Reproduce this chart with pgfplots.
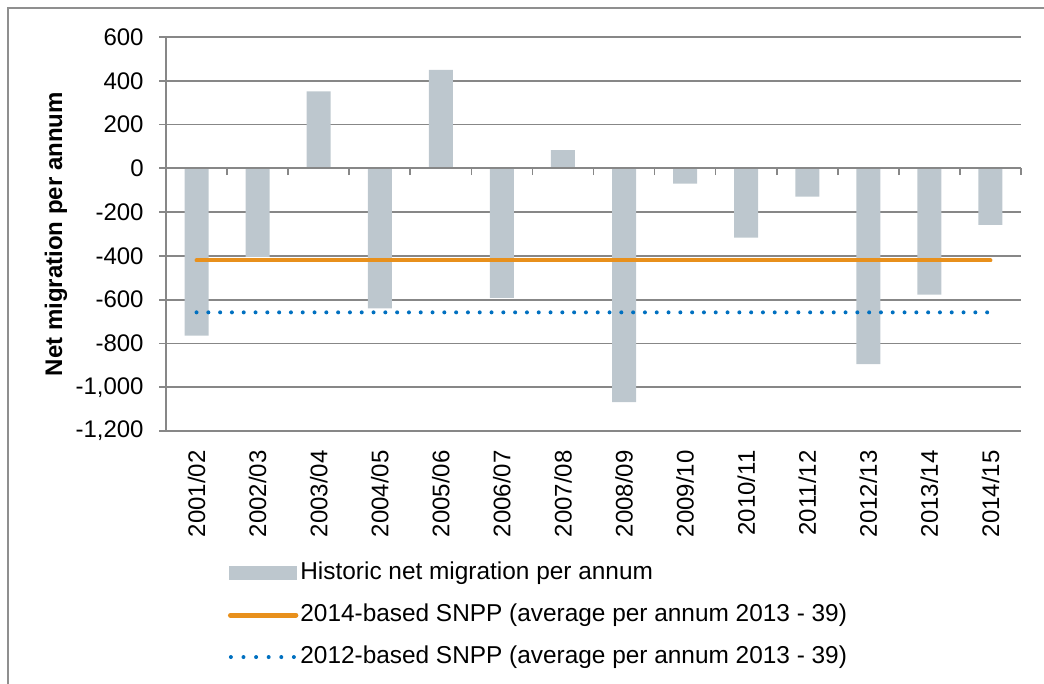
\documentclass[border=0pt]{standalone}
\usepackage{fontspec}
\setmainfont{Liberation Sans}
\usepackage{pgfplots}
\pgfplotsset{compat=1.18}
\definecolor{barcol}{HTML}{BDC7CE}
\definecolor{orangecol}{HTML}{E8901C}
\definecolor{bluecol}{HTML}{0070C0}
\definecolor{gridcol}{HTML}{878787}
\definecolor{framecol}{HTML}{8F8F8F}
\newcommand{\chartfont}{\fontsize{12}{14}\selectfont}
\newcommand{\legfont}{\fontsize{12.2}{14}\selectfont}
\begin{document}
\begin{tikzpicture}
\useasboundingbox (0,0) rectangle (522pt,-342pt);
\draw[framecol, line width=0.7pt] (4pt,-342pt) -- (4pt,-4pt) -- (522pt,-4pt);
\begin{axis}[
  at={(83pt,-215.5pt)}, anchor=south west,
  scale only axis, width=427.5pt, height=197pt,
  xmin=-0.5, xmax=13.5, ymin=-1200, ymax=600,
  ytick={-1200,-1000,...,600},
  xtick={0,...,13},
  xticklabels={2001/02,2002/03,2003/04,2004/05,2005/06,2006/07,2007/08,2008/09,2009/10,2010/11,2011/12,2012/13,2013/14,2014/15},
  axis x line*=bottom, axis y line*=left,
  axis line style={draw=gridcol, line width=0.85pt, -},
  xtick style={draw=none},
  ytick style={draw=gridcol, line width=0.85pt},
  tick align=outside, major tick length=3.5pt,
  ymajorgrids, grid style={gridcol, line width=0.85pt},
  tick label style={font=\chartfont},
  xticklabel style={rotate=90, anchor=east, inner sep=0pt},
  xticklabel shift=6pt,
  yticklabel style={inner sep=0pt},
  yticklabel shift=7.5pt,
  /pgf/number format/assume math mode=true,
  /pgf/number format/1000 sep={,},
  every axis y label/.style={at={(axis description cs:-0.1287,0.5)}, rotate=90, anchor=center, font=\chartfont\bfseries},
  ylabel={Net migration per annum},
  legend style={draw=none, fill=none, at={(axis description cs:0.0725,-0.326)}, anchor=north west,
    inner sep=0pt, outer sep=0pt, row sep=6.9pt,
    nodes={inner sep=1pt, text height=9pt, text depth=3pt, font=\legfont}},
  legend cell align=left,
]
\addplot[ybar, bar width=12pt, bar shift=0pt, fill=barcol, draw=none,
  legend image code/.code={\fill[barcol] (0pt,-3.5pt) rectangle (34pt,3.5pt);}]
  coordinates {(0,-764) (1,-405) (2,352) (3,-640) (4,450) (5,-592) (6,83) (7,-1068) (8,-70) (9,-316) (10,-129) (11,-895) (12,-577) (13,-258)};
\addlegendentry{Historic net migration per annum}
\addplot[orangecol, line width=2pt, line cap=round,
  legend image code/.code={\draw[orangecol, line width=2.5pt, line cap=round] (0.8pt,0pt) -- (33.5pt,0pt);}]
  coordinates {(0,-421) (13,-421)};
\addlegendentry{2014-based SNPP (average per annum 2013 - 39)}
\addplot[bluecol, line width=2pt, line cap=round, dash pattern=on 0pt off 5.9pt,
  legend image code/.code={\draw[bluecol, line width=2pt, line cap=round, dash pattern=on 0pt off 6.3pt] (1pt,0pt) -- (33pt,0pt);}]
  coordinates {(0,-658) (13,-658)};
\addlegendentry{2012-based SNPP (average per annum 2013 - 39)}
\end{axis}
\begin{axis}[
  at={(83pt,-215.5pt)}, anchor=south west,
  scale only axis, width=427.5pt, height=197pt,
  xmin=-0.5, xmax=13.5, ymin=-1200, ymax=600,
  axis x line=middle, axis y line=none,
  axis line style={draw=gridcol, line width=0.85pt, -},
  xtick={-0.5,0.5,...,13.5}, xticklabels={},
  xtick style={draw=gridcol, line width=0.85pt},
  tick align=outside, major tick length=3.4pt,
]
\addplot[draw=none, forget plot] coordinates {(0,0) (13,0)};
\end{axis}
\end{tikzpicture}
\end{document}
